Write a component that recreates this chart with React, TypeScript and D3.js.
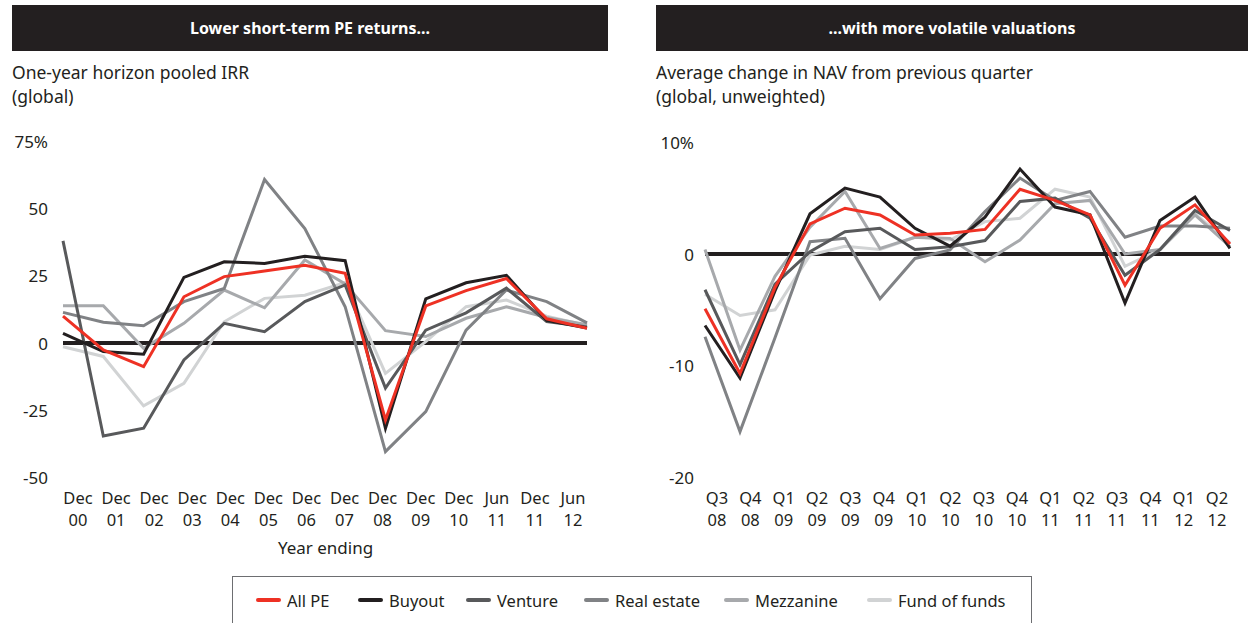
import React from 'react';
import * as d3 from 'd3';

// ---------- Data ----------
const seriesNames = ['All PE', 'Buyout', 'Venture', 'Real estate', 'Mezzanine', 'Fund of funds'];
const seriesColors = ['#ee3124', '#231f20', '#58595b', '#808285', '#a7a9ac', '#d1d3d4'];

const leftCategories = ['Dec 00', 'Dec 01', 'Dec 02', 'Dec 03', 'Dec 04', 'Dec 05', 'Dec 06', 'Dec 07', 'Dec 08', 'Dec 09', 'Dec 10', 'Jun 11', 'Dec 11', 'Jun 12'];
const leftAllPE = [10, -2.6, -8.8, 17.2, 24.7, 26.8, 28.9, 25.9, -28.6, 13.8, 19.5, 24, 9, 5.5];
const leftBuyout = [3.6, -3.2, -4.2, 24.4, 30.2, 29.6, 32.3, 30.6, -31.8, 16.4, 22.4, 25.2, 8.4, 5.6];
const leftVenture = [38, -34.6, -31.7, -6.3, 7.3, 4.2, 15.4, 21.6, -16.8, 4.8, 11.2, 20.4, 8, 6];
const leftRealEstate = [11.4, 7.7, 6.4, 15.4, 20.3, 60.8, 42.6, 13.5, -40.4, -25.5, 4.8, 19.7, 15.4, 7.5];
const leftMezzanine = [13.9, 13.9, -2, 7.3, 19.7, 13.1, 30.9, 22, 4.6, 2.4, 9.2, 13.5, 9.5, 6.8];
const leftFoF = [-1.4, -5, -23.4, -15, 7.9, 16.6, 17.8, 22.5, -11.3, 0.5, 13.5, 16, 10, 6.5];
const leftYTicks = [75, 50, 25, 0, -25, -50];

const rightCategories = ['Q3 08', 'Q4 08', 'Q1 09', 'Q2 09', 'Q3 09', 'Q4 09', 'Q1 10', 'Q2 10', 'Q3 10', 'Q4 10', 'Q1 11', 'Q2 11', 'Q3 11', 'Q4 11', 'Q1 12', 'Q2 12'];
const rightAllPE = [-4.9, -10.7, -3.0, 2.7, 4.1, 3.5, 1.7, 1.85, 2.2, 5.8, 4.8, 3.5, -2.8, 2.3, 4.4, 0.9];
const rightBuyout = [-6.4, -11.1, -3.3, 3.6, 5.9, 5.1, 2.3, 0.7, 3.3, 7.6, 4.2, 3.5, -4.4, 3.0, 5.1, 0.5];
const rightVenture = [-3.2, -9.9, -2.7, 0.2, 2.0, 2.3, 0.4, 0.65, 1.2, 4.7, 5.0, 3.2, -1.9, 0.4, 3.9, 2.1];
const rightRealEstate = [-7.4, -15.9, -7.5, 1.1, 1.4, -4.0, -0.4, 0.36, 3.8, 6.8, 4.8, 5.6, 1.5, 2.5, 2.5, 2.3];
const rightMezzanine = [0.4, -8.6, -2.0, 2.4, 5.6, 0.5, 1.5, 1.4, -0.7, 1.25, 4.5, 4.8, 0.0, 0.4, 3.5, 0.65];
const rightFoF = [-3.6, -5.5, -5.0, -0.1, 0.7, 0.4, 1.5, 1.25, 2.9, 3.2, 5.8, 5.1, -1.1, 0.4, 3.6, 1.0];
const rightYTicks = [10, 0, -10, -20];

const FONT = "'Noto Sans', sans-serif";
const TEXT = '#231f20';

type PanelProps = {
  categories: string[];
  series: number[][];
  ticks: number[];
  domain: [number, number];
  yRange: [number, number];
  lineRange: [number, number];
  labelRange: [number, number];
  tickX: number;
  title: string;
  sub1: string;
  sub2: string;
  barX: [number, number];
  xTitle?: string;
};

function Panel(p: PanelProps) {
  const y = d3.scaleLinear().domain(p.domain).range(p.yRange);
  const xLine = d3.scalePoint<string>().domain(p.categories).range(p.lineRange);
  const xLab = d3.scalePoint<string>().domain(p.categories).range(p.labelRange);
  const line = d3
    .line<number>()
    .x((_, i) => xLine(p.categories[i]) as number)
    .y((d) => y(d));
  const order = [5, 4, 3, 2, 1, 0];
  const topTick = d3.max(p.ticks) as number;
  return (
    <g>
      <rect x={p.barX[0]} y={5} width={p.barX[1] - p.barX[0]} height={46} fill="#231f20" />
      <text x={(p.barX[0] + p.barX[1]) / 2} y={28} fill="#fff" fontWeight={700} fontSize={16} textAnchor="middle" dominantBaseline="central" fontFamily={FONT}>
        {p.title}
      </text>
      <text x={p.barX[0]} y={79} fill={TEXT} fontSize={17.5} fontFamily={FONT}>{p.sub1}</text>
      <text x={p.barX[0]} y={103} fill={TEXT} fontSize={17.5} fontFamily={FONT}>{p.sub2}</text>
      {p.ticks.map((t) => (
        <text key={t} x={p.tickX} y={y(t)} fill={TEXT} fontSize={17} textAnchor="end" dominantBaseline="central" fontFamily={FONT}>
          {t === topTick ? `${t}%` : `${t}`}
        </text>
      ))}
      <line x1={p.lineRange[0]} x2={p.lineRange[1]} y1={y(0)} y2={y(0)} stroke="#231f20" strokeWidth={4} />
      {order.map((si) => (
        <path key={si} d={line(p.series[si]) as string} fill="none" stroke={seriesColors[si]} strokeWidth={3} strokeLinejoin="miter" />
      ))}
      {p.categories.map((c) => {
        const [a, b] = c.split(' ');
        const cx = xLab(c) as number;
        return (
          <g key={c}>
            <text x={cx} y={497} fill={TEXT} fontSize={16.5} textAnchor="middle" dominantBaseline="central" fontFamily={FONT}>{a}</text>
            <text x={cx} y={519} fill={TEXT} fontSize={16.5} textAnchor="middle" dominantBaseline="central" fontFamily={FONT}>{b}</text>
          </g>
        );
      })}
      {p.xTitle && (
        <text x={(p.labelRange[0] + p.labelRange[1]) / 2} y={547} fill={TEXT} fontSize={17} textAnchor="middle" dominantBaseline="central" fontFamily={FONT}>
          {p.xTitle}
        </text>
      )}
    </g>
  );
}

function Legend() {
  const xs = d3.scaleOrdinal<string, number>().domain(seriesNames).range([258, 360, 468, 586, 726, 869]);
  return (
    <g>
      <rect x={232.5} y={576.5} width={799} height={60} fill="none" stroke="#6d6e71" strokeWidth={1} />
      {seriesNames.map((n, i) => (
        <g key={n}>
          <line x1={xs(n)} x2={xs(n) + 21} y1={600} y2={600} stroke={seriesColors[i]} strokeWidth={4} strokeLinecap="round" />
          <text x={xs(n) + 29} y={600} fill={TEXT} fontSize={16.5} dominantBaseline="central" fontFamily={FONT}>{n}</text>
        </g>
      ))}
    </g>
  );
}

export default function App() {
  return (
    <svg width={1248} height={623} style={{ position: 'absolute', left: 0, top: 0, background: '#fff' }}>
      <rect width={1248} height={623} fill="#fff" />
      <Panel
        categories={leftCategories}
        series={[leftAllPE, leftBuyout, leftVenture, leftRealEstate, leftMezzanine, leftFoF]}
        ticks={leftYTicks}
        domain={[-50, 75]}
        yRange={[477.4, 141.4]}
        lineRange={[63, 587]}
        labelRange={[78, 573]}
        tickX={48}
        title="Lower short-term PE returns..."
        sub1="One-year horizon pooled IRR"
        sub2="(global)"
        barX={[12, 608]}
        xTitle="Year ending"
      />
      <Panel
        categories={rightCategories}
        series={[rightAllPE, rightBuyout, rightVenture, rightRealEstate, rightMezzanine, rightFoF]}
        ticks={rightYTicks}
        domain={[-20, 10]}
        yRange={[477.4, 142.3]}
        lineRange={[705, 1230]}
        labelRange={[717, 1217]}
        tickX={694}
        title="...with more volatile valuations"
        sub1="Average change in NAV from previous quarter"
        sub2="(global, unweighted)"
        barX={[656, 1248]}
      />
      <Legend />
    </svg>
  );
}
